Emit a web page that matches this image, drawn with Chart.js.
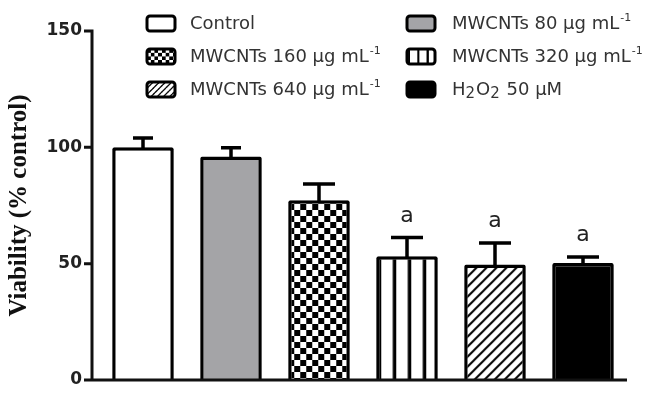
<!DOCTYPE html>
<html>
<head>
<meta charset="utf-8">
<script src="https://cdn.jsdelivr.net/npm/chart.js@4.4.1/dist/chart.umd.min.js"></script>
<style>
  html, body { margin: 0; padding: 0; background: #fff; }
  #wrap { width: 659px; height: 402px; }
  canvas { display: block; }
</style>
</head>
<body>
<div id="wrap"><canvas id="chart" width="659" height="402"></canvas></div>
<script>
const groups = ['Control', 'MWCNTs 80 µg mL⁻¹', 'MWCNTs 160 µg mL⁻¹', 'MWCNTs 320 µg mL⁻¹', 'MWCNTs 640 µg mL⁻¹', 'H₂O₂ 50 µM'];
const viability = [100, 96.1, 77.3, 53.2, 49.6, 50.3];
const sem = [4, 3.7, 6.9, 8, 9.3, 2.6];
const marks = ['', '', '', 'a', 'a', 'a'];
const yTicks = [0, 50, 100, 150];

// fills: plain colours and small tiled patterns
function makePattern(kind) {
    const c = document.createElement('canvas');
    let ctx;
    if (kind === 'checker') {
        c.width = 12; c.height = 12;
        ctx = c.getContext('2d');
        ctx.fillStyle = '#fff'; ctx.fillRect(0, 0, 12, 12);
        ctx.fillStyle = '#000';
        ctx.fillRect(0, 0, 6, 6); ctx.fillRect(6, 6, 6, 6);
    } else if (kind === 'vstripe') {
        c.width = 15; c.height = 4;
        ctx = c.getContext('2d');
        ctx.fillStyle = '#fff'; ctx.fillRect(0, 0, 15, 4);
        ctx.fillStyle = '#000'; ctx.fillRect(1.5, 0, 3.5, 4);
    } else {
        c.width = 10; c.height = 10;
        ctx = c.getContext('2d');
        ctx.fillStyle = '#fff'; ctx.fillRect(0, 0, 10, 10);
        ctx.strokeStyle = '#000'; ctx.lineWidth = 2;
        ctx.beginPath();
        ctx.moveTo(-1, 11); ctx.lineTo(11, -1);
        ctx.moveTo(-1, 1); ctx.lineTo(1, -1);
        ctx.moveTo(9, 11); ctx.lineTo(11, 9);
        ctx.stroke();
    }
    return ctx.createPattern(c, 'repeat');
}

const fills = ['#ffffff', '#a4a4a7', makePattern('checker'), makePattern('vstripe'), makePattern('hatch'), '#000000'];

// text with ⁻¹ as superscript and ₂ as subscript
function drawRich(ctx, text, x, y) {
    const parts = text.split(/(⁻¹|₂)/);
    parts.forEach(p => {
        if (!p) return;
        if (p === '⁻¹') {
            ctx.font = '11px "DejaVu Sans"';
            ctx.fillText('-1', x + 1, y - 6);
            x += ctx.measureText('-1').width + 1;
        } else if (p === '₂') {
            ctx.font = '15px "DejaVu Sans"';
            ctx.fillText('2', x, y + 4);
            x += ctx.measureText('2').width + 1;
        } else {
            ctx.font = '18px "DejaVu Sans"';
            ctx.fillText(p, x, y);
            x += ctx.measureText(p).width;
        }
    });
}

const alignPatterns = {
    id: 'alignPatterns',
    beforeDatasetsDraw(chart) {
        chart.getDatasetMeta(0).data.forEach((bar, i) => {
            const f = fills[i];
            if (typeof f !== 'string') {
                f.setTransform(new DOMMatrix().translate(bar.x - bar.width / 2, 0));
            }
        });
    }
};

const errorBars = {
    id: 'errorBars',
    afterDatasetsDraw(chart) {
        const ctx = chart.ctx;
        const y = chart.scales.y;
        const capW = [20, 20, 32, 32, 32, 32];
        ctx.save();
        ctx.strokeStyle = '#000';
        ctx.lineWidth = 3.5;
        chart.getDatasetMeta(0).data.forEach((bar, i) => {
            const top = y.getPixelForValue(viability[i]);
            const et = y.getPixelForValue(viability[i] + sem[i]);
            ctx.beginPath();
            ctx.moveTo(bar.x, top + 2);
            ctx.lineTo(bar.x, et);
            ctx.moveTo(bar.x - capW[i] / 2, et);
            ctx.lineTo(bar.x + capW[i] / 2, et);
            ctx.stroke();
            if (marks[i]) {
                ctx.fillStyle = '#222';
                ctx.font = '22px "DejaVu Sans"';
                ctx.textAlign = 'center';
                ctx.textBaseline = 'alphabetic';
                ctx.fillText(marks[i], bar.x, et - 16);
            }
        });
        ctx.restore();
    }
};

const axesAndLegend = {
    id: 'axesAndLegend',
    afterDraw(chart) {
        const ctx = chart.ctx;
        const a = chart.chartArea;
        const y = chart.scales.y;
        const ax = a.left - 7;
        ctx.save();
        ctx.strokeStyle = '#111';
        ctx.lineWidth = 3;
        ctx.beginPath();
        ctx.moveTo(ax, y.getPixelForValue(150) - 1.5);
        ctx.lineTo(ax, a.bottom);
        ctx.lineTo(a.right, a.bottom);
        yTicks.forEach(v => {
            const py = y.getPixelForValue(v);
            ctx.moveTo(ax - 8, py);
            ctx.lineTo(ax, py);
        });
        ctx.stroke();

        // legend, two columns
        groups.forEach((label, i) => {
            const col = i % 2, row = Math.floor(i / 2);
            const bx = [147, 407][col], tx = [190, 452][col];
            const cy = 23 + row * 33;
            const f = fills[i];
            if (typeof f !== 'string') {
                f.setTransform(new DOMMatrix().translate(bx, cy - 7).scale(0.62));
            }
            ctx.beginPath();
            ctx.roundRect(bx, cy - 7, 28, 15, 3);
            ctx.fillStyle = f;
            ctx.fill();
            ctx.lineWidth = 3;
            ctx.strokeStyle = '#000';
            ctx.stroke();
            ctx.fillStyle = '#333';
            ctx.textAlign = 'left';
            ctx.textBaseline = 'middle';
            drawRich(ctx, label, tx, cy + 1);
        });
        ctx.restore();
    }
};

new Chart(document.getElementById('chart').getContext('2d'), {
    type: 'bar',
    data: {
        labels: groups,
        datasets: [{
            data: viability,
            backgroundColor: fills,
            borderColor: '#000',
            borderWidth: 3.5,
            borderRadius: 2,
            borderSkipped: 'start',
            barPercentage: 0.7,
            categoryPercentage: 1,
        }]
    },
    options: {
        responsive: false,
        animation: false,
        layout: { padding: { top: 31, right: 32, bottom: 22, left: 0 } },
        plugins: { legend: { display: false }, tooltip: { enabled: false } },
        scales: {
            x: { display: false },
            y: {
                min: 0, max: 150,
                afterFit: s => { s.width = 99; s.paddingTop = 0; s.paddingBottom = 0; },
                afterBuildTicks: s => { s.ticks = yTicks.map(v => ({ value: v })); },
                grid: { display: false, drawTicks: false },
                border: { display: false },
                ticks: { padding: 17, color: '#222', font: { family: 'DejaVu Sans', size: 17, weight: 'bold' } },
                title: {
                    display: true,
                    text: 'Viability (% control)',
                    color: '#111',
                    padding: { top: 5 },
                    font: { family: 'Liberation Serif', size: 25, weight: 'bold' }
                }
            }
        }
    },
    plugins: [alignPatterns, errorBars, axesAndLegend]
});
</script>
</body>
</html>
